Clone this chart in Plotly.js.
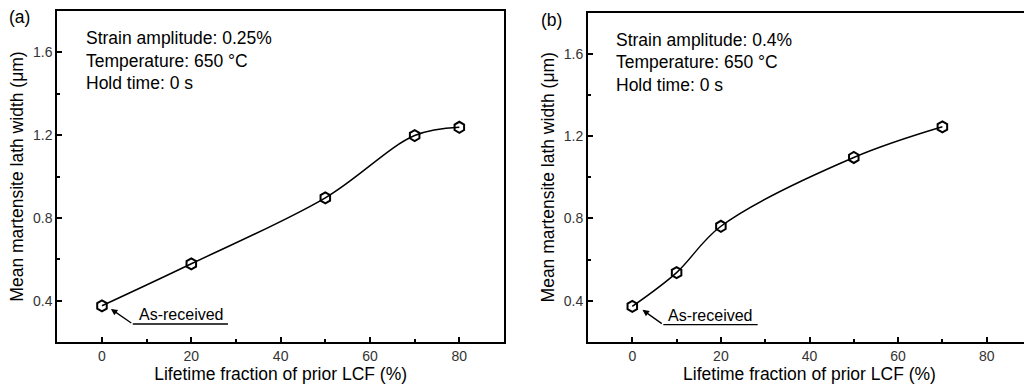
<!DOCTYPE html>
<html>
<head>
<meta charset="utf-8">
<script src="https://cdn.plot.ly/plotly-3.0.1.min.js"></script>
<style>
html,body{margin:0;padding:0;overflow:hidden;background:#fff;width:1024px;height:387px;}
#chart{width:1040px;height:387px;}
</style>
</head>
<body>
<div id="chart"></div>
<script>
// Data
const fractionA = [0, 20, 50, 70, 80];
const lathA = [0.375, 0.578, 0.897, 1.198, 1.238];
const fractionB = [0, 10, 20, 50, 70];
const lathB = [0.373, 0.537, 0.762, 1.096, 1.245];
const panelLabels = ['(a)', '(b)'];
const conditionsA = ['Strain amplitude: 0.25%', 'Temperature: 650 \u00B0C', 'Hold time: 0 s'];
const conditionsB = ['Strain amplitude: 0.4%', 'Temperature: 650 \u00B0C', 'Hold time: 0 s'];
const xTitle = 'Lifetime fraction of prior LCF (%)';
const yTitle = 'Mean martensite lath width (\u03BCm)';
const xTicks = [0, 20, 40, 60, 80];
const yTicks = [0.4, 0.8, 1.2, 1.6];
const noteText = 'As-received';

const FONT = 'Arial, "Liberation Sans", sans-serif';
const W = 1040, H = 387;

function trace(x, y, xa, ya) {
  return {
    x: x, y: y, xaxis: xa, yaxis: ya, type: 'scatter', mode: 'lines+markers',
    line: {color: '#000', width: 1.5, shape: 'spline', smoothing: 1},
    marker: {symbol: 'hexagon-open', size: 11, color: '#000', line: {width: 2, color: '#000'}},
    showlegend: false, hoverinfo: 'x+y'
  };
}

function xaxis(dom, anchor) {
  return {
    domain: dom, anchor: anchor, range: [-10, 90],
    tickvals: xTicks, ticktext: xTicks.map(String),
    ticks: 'inside', ticklen: 5, tickwidth: 1.5, tickcolor: '#000',
    minor: {tickvals: [-10, 10, 30, 50, 70, 90], ticks: 'inside', ticklen: 3, tickwidth: 1.5, tickcolor: '#000'},
    showline: true, linewidth: 2, linecolor: '#000', mirror: true,
    showgrid: false, zeroline: false,
    tickfont: {family: FONT, size: 14, color: '#333'},
    title: {text: xTitle, font: {family: FONT, size: 17.5, color: '#000'}, standoff: 4},
    automargin: false
  };
}
function yaxis(dom, anchor) {
  return {
    domain: dom, anchor: anchor, range: [0.2, 1.8],
    tickvals: yTicks, ticktext: yTicks.map(v => v.toFixed(1)),
    ticks: 'inside', ticklen: 5, tickwidth: 1.5, tickcolor: '#000',
    minor: {tickvals: [0.6, 1.0, 1.4], ticks: 'inside', ticklen: 3, tickwidth: 1.5, tickcolor: '#000'},
    showline: true, linewidth: 2, linecolor: '#000', mirror: true,
    showgrid: false, zeroline: false,
    tickfont: {family: FONT, size: 14, color: '#333'},
    title: {text: yTitle, font: {family: FONT, size: 17.5, color: '#000'}, standoff: 5},
    automargin: false
  };
}

const annotations = [];
const shapes = [];
function addPanelDecor(xa, ya, conds, label, labelX, labelY, tipX, tipY, tailX, tailY, lineEnd, textX, textY) {
  conds.forEach((t, i) => {
    annotations.push({xref: xa, yref: ya, x: -4.1, y: 1.668 - i * 0.109, text: t, showarrow: false,
      xanchor: 'left', yanchor: 'middle', font: {family: FONT, size: 17.5, color: '#000'}});
  });
  annotations.push({xref: 'paper', yref: 'paper', x: labelX / W, y: 1 - labelY / H, text: label, showarrow: false,
    xanchor: 'center', yanchor: 'middle', font: {family: FONT, size: 17.5, color: '#000'}});
  annotations.push({xref: xa, yref: ya, x: tipX, y: tipY, axref: xa, ayref: ya, ax: tailX, ay: tailY,
    text: '', showarrow: true, arrowhead: 2, arrowsize: 1, arrowwidth: 1.3, arrowcolor: '#000'});
  annotations.push({xref: xa, yref: ya, x: textX, y: textY, text: noteText, showarrow: false,
    xanchor: 'center', yanchor: 'middle', font: {family: FONT, size: 16, color: '#000'}});
  shapes.push({type: 'line', xref: xa, yref: ya, x0: tailX, y0: tailY, x1: lineEnd, y1: tailY,
    line: {color: '#000', width: 1.3}});
}

addPanelDecor('x', 'y', conditionsA, panelLabels[0], 19, 17, 2.0, 0.36, 6.9, 0.287, 28.2, 17.7, 0.331);
addPanelDecor('x2', 'y2', conditionsB, panelLabels[1], 551, 20, 2.3, 0.356, 7.0, 0.284, 28.3, 17.6, 0.328);

const layout = {
  width: W, height: H,
  margin: {l: 0, r: 0, t: 0, b: 0},
  paper_bgcolor: '#fff', plot_bgcolor: '#fff',
  font: {family: FONT, color: '#000'},
  xaxis: xaxis([57.3 / W, 504 / W], 'y'),
  yaxis: yaxis([45 / H, 376 / H], 'x'),
  xaxis2: xaxis([588 / W, 1031 / W], 'y2'),
  yaxis2: yaxis([45 / H, 374.5 / H], 'x2'),
  annotations: annotations,
  shapes: shapes,
  showlegend: false
};

Plotly.newPlot('chart', [trace(fractionA, lathA, 'x', 'y'), trace(fractionB, lathB, 'x2', 'y2')], layout,
  {displayModeBar: false, staticPlot: false});
</script>
</body>
</html>
